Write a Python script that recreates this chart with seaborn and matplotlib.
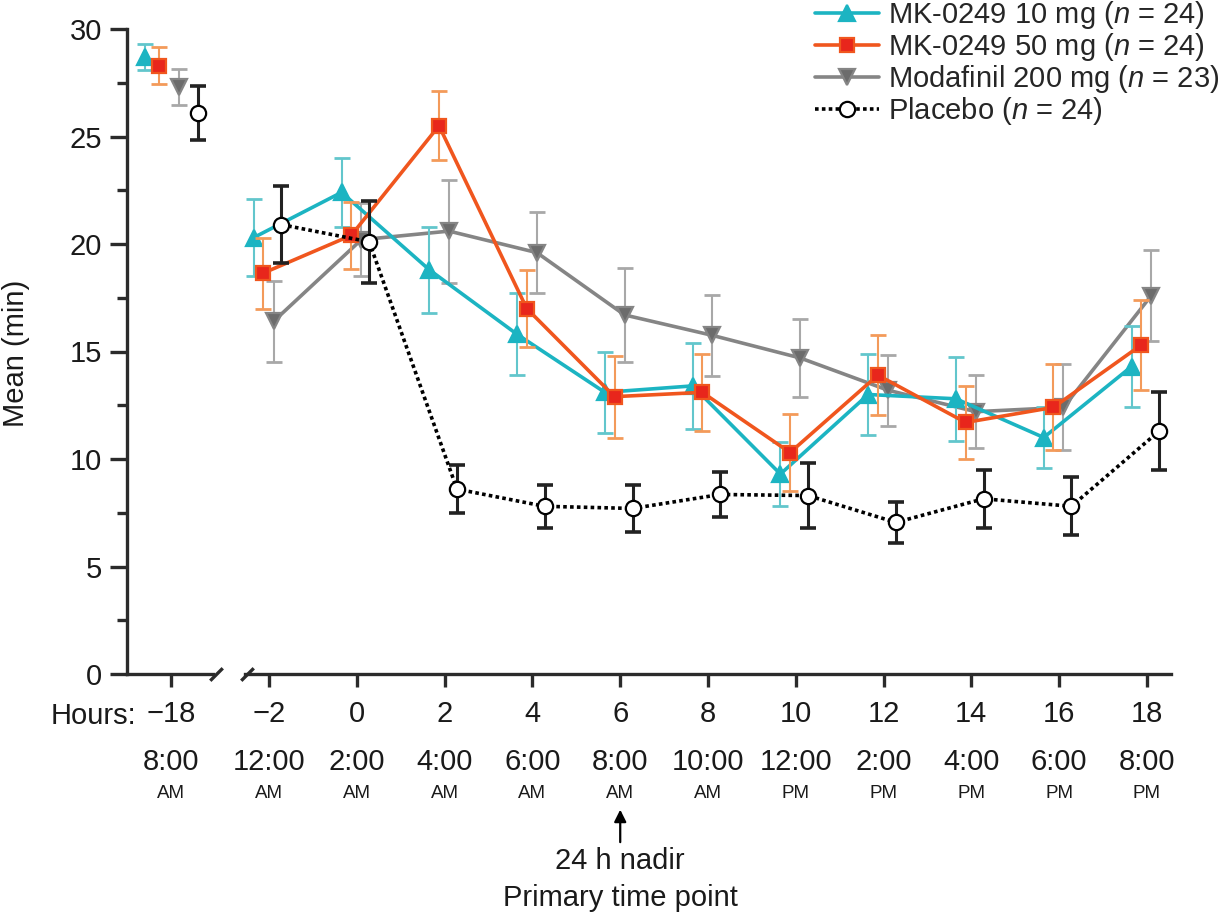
import matplotlib

matplotlib.use("Agg")

import pandas as pd
import seaborn as sns
from matplotlib import pyplot as plt
from matplotlib.lines import Line2D

sns.set_theme(style="ticks")
plt.rcParams["font.family"] = ["Liberation Sans", "DejaVu Sans"]
plt.rcParams["mathtext.fontset"] = "custom"
plt.rcParams["mathtext.rm"] = "Liberation Sans"
plt.rcParams["mathtext.it"] = "Liberation Sans:italic"

# Data (mean and error per time point)
hours = [-18, -2, 0, 2, 4, 6, 8, 10, 12, 14, 16, 18]
hour_labels = ["\u221218", "\u22122", "0", "2", "4", "6", "8", "10", "12", "14", "16", "18"]
clock_times = ["8:00", "12:00", "2:00", "4:00", "6:00", "8:00", "10:00",
               "12:00", "2:00", "4:00", "6:00", "8:00"]
meridiem = ["AM", "AM", "AM", "AM", "AM", "AM", "AM", "PM", "PM", "PM", "PM", "PM"]

mk10_mean = [28.7, 20.3, 22.4, 18.8, 15.8, 13.1, 13.4, 9.3, 13.0, 12.8, 11.0, 14.3]
mk10_err = [0.6, 1.8, 1.6, 2.0, 1.9, 1.9, 2.0, 1.5, 1.9, 1.95, 1.4, 1.9]
mk50_mean = [28.3, 18.65, 20.4, 25.5, 17.0, 12.9, 13.1, 10.3, 13.9, 11.7, 12.4, 15.3]
mk50_err = [0.85, 1.65, 1.55, 1.6, 1.8, 1.9, 1.8, 1.8, 1.85, 1.7, 2.0, 2.1]
moda_mean = [27.3, 16.4, 20.2, 20.6, 19.6, 16.7, 15.75, 14.7, 13.2, 12.2, 12.4, 17.6]
moda_err = [0.85, 1.9, 1.7, 2.4, 1.9, 2.2, 1.9, 1.8, 1.65, 1.7, 2.0, 2.1]
placebo_mean = [26.1, 20.9, 20.1, 8.6, 7.8, 7.7, 8.35, 8.3, 7.05, 8.15, 7.8, 11.3]
placebo_err = [1.25, 1.8, 1.9, 1.1, 1.0, 1.1, 1.05, 1.5, 0.95, 1.35, 1.35, 1.8]

groups = ["MK-0249 10 mg ($n$ = 24)", "MK-0249 50 mg ($n$ = 24)",
          "Modafinil 200 mg ($n$ = 23)", "Placebo ($n$ = 24)"]
means = [mk10_mean, mk50_mean, moda_mean, placebo_mean]
errs = [mk10_err, mk50_err, moda_err, placebo_err]

# styling per group
dodge = [-0.35, -0.13, 0.1, 0.28]
dodge_baseline = [-0.6, -0.27, 0.18, 0.6]
line_colors = ["#1cb4c2", "#f0561e", "#858585", "black"]
err_colors = ["#62c6cc", "#f39a5a", "#a8a8a8", "#222222"]
face_colors = ["#1cb4c2", "#e8261c", "#6c6c6c", "white"]
markers = ["^", "s", "v", "o"]
msizes = [11, 10, 11, 11]
styles = ["-", "-", "-", (0, (1.0, 0.9))]
zorders = [3, 4, 2, 5]
ink = "#2b2b2b"
txt = "#1a1a1a"
fs = 21

fig = plt.figure(figsize=(12.22, 9.18), dpi=100)
ax_l = fig.add_axes([127 / 1222, 1 - 674 / 918, 86 / 1222, 645 / 918])
ax_r = fig.add_axes([245 / 1222, 1 - 674 / 918, 926 / 1222, 645 / 918], sharey=ax_l)

for i, name in enumerate(groups):
    df = pd.DataFrame({"hour": hours, "mean": means[i], "err": errs[i]})
    df["x"] = df["hour"] + dodge[i]
    df.loc[df["hour"] == -18, "x"] = -18 + dodge_baseline[i]
    for ax, part in ((ax_l, df[df["hour"] < -10]), (ax_r, df[df["hour"] > -10])):
        ax.errorbar(part["x"], part["mean"], yerr=part["err"], fmt="none",
                    ecolor=err_colors[i], elinewidth=2.2 if i == 3 else 1.5,
                    capsize=6, capthick=2.6 if i == 3 else 2.0,
                    zorder=zorders[i], clip_on=False)
        sns.lineplot(data=part, x="x", y="mean", ax=ax, color=line_colors[i],
                     linestyle=styles[i], linewidth=2.6, marker=markers[i],
                     markersize=msizes[i], markerfacecolor=face_colors[i],
                     markeredgecolor=line_colors[i] if i < 3 else "black",
                     markeredgewidth=1.6, zorder=zorders[i], clip_on=False,
                     sort=False, legend=False)

ax_l.set_xlim(-19.0, -17.05)
ax_r.set_xlim(-2.55, 18.55)
ax_l.set_ylim(0, 30)
ax_l.set_yticks([0, 5, 10, 15, 20, 25, 30])
ax_l.set_yticks([2.5, 7.5, 12.5, 17.5, 22.5, 27.5], minor=True)
ax_l.set_xticks(hours[:1], hour_labels[:1])
ax_r.set_xticks(hours[1:], hour_labels[1:])

for ax in (ax_l, ax_r):
    ax.set_xlabel("")
    ax.set_ylabel("")
    for side in ("top", "right"):
        ax.spines[side].set_visible(False)
    for side in ("left", "bottom"):
        ax.spines[side].set_linewidth(2.4)
        ax.spines[side].set_color(ink)
    ax.tick_params(axis="x", length=9, width=2.4, color=ink, labelsize=fs, pad=10,
                   labelcolor=txt)
    ax.tick_params(axis="y", which="major", length=12, width=2.4, color=ink,
                   labelsize=fs, pad=6, labelcolor=txt)
    ax.tick_params(axis="y", which="minor", length=7, width=2.4, color=ink)

ax_r.spines["left"].set_visible(False)
ax_r.tick_params(axis="y", which="both", left=False, labelleft=False)

# second and third rows of the x labels
for ax, idx in ((ax_l, [0]), (ax_r, range(1, len(hours)))):
    for j in idx:
        ax.text(hours[j], -0.137, clock_times[j], transform=ax.get_xaxis_transform(),
                ha="center", va="center", fontsize=fs, color=txt)
        ax.text(hours[j], -0.186, meridiem[j], transform=ax.get_xaxis_transform(),
                ha="center", va="center", fontsize=13.5, color=txt)

fig.text(136 / 1222, 1 - 716 / 918, "Hours:", ha="right", va="center",
         fontsize=fs, color=txt)
fig.text(16 / 1222, 1 - 353 / 918, "Mean (min)", rotation=90, ha="center",
         va="center", fontsize=fs, color=txt)

# axis break marks
slash = [(-1, -1), (1, 1)]
ax_l.plot([1.03], [0], transform=ax_l.transAxes, marker=slash, markersize=9,
          mew=2.4, color=ink, clip_on=False)
ax_r.plot([0.002], [0], transform=ax_r.transAxes, marker=slash, markersize=9,
          mew=2.4, color=ink, clip_on=False)

# primary time point annotation
ax_r.annotate("", xy=(6, -0.206), xytext=(6, -0.265),
              xycoords=ax_r.get_xaxis_transform(),
              textcoords=ax_r.get_xaxis_transform(),
              arrowprops=dict(arrowstyle="-|>", color="black", lw=1.6,
                              mutation_scale=18))
ax_r.text(6, -0.29, "24 h nadir", transform=ax_r.get_xaxis_transform(),
          ha="center", va="center", fontsize=fs, color=txt)
ax_r.text(6, -0.348, "Primary time point", transform=ax_r.get_xaxis_transform(),
          ha="center", va="center", fontsize=fs, color=txt)

handles = [
    Line2D([], [], color=line_colors[i], linestyle=styles[i], linewidth=2.6,
           marker=markers[i], markersize=msizes[i], markerfacecolor=face_colors[i],
           markeredgecolor=line_colors[i] if i < 3 else "black", markeredgewidth=1.6)
    for i in range(len(groups))
]
fig.legend(handles, groups, loc="upper right", bbox_to_anchor=(1.012, 1.02),
           frameon=False, fontsize=fs, handlelength=2.2, handletextpad=0.3,
           labelspacing=0.0, borderaxespad=0.2)

fig.savefig("out.png", dpi=100)
